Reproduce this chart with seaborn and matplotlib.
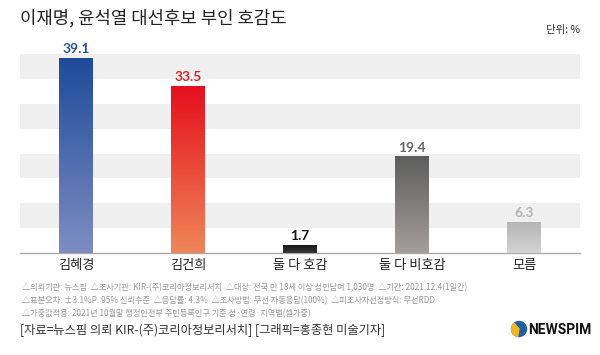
import numpy as np
import pandas as pd
import seaborn as sns
import matplotlib.pyplot as plt
from matplotlib.colors import LinearSegmentedColormap
from matplotlib.patches import Circle, Wedge

sns.set_style('white')
plt.rcParams['font.family'] = ['Noto Sans CJK KR', 'DejaVu Sans']

# data
categories = ['김혜경', '김건희', '둘 다 호감', '둘 다 비호감', '모름']
values = [39.1, 33.5, 1.7, 19.4, 6.3]
top_colors = ['#1d4b9a', '#e50f1d', '#111111', '#5e5e5e', '#b4b4b4']
bottom_colors = ['#7f8dc2', '#f08658', '#3a3a3a', '#a49e9c', '#d4d4d4']
label_colors = ['#2a559c', '#e0202a', '#111111', '#666666', '#b3b3b3']

df = pd.DataFrame({'cat': categories, 'val': values})

fig = plt.figure(figsize=(6, 3.55), dpi=100)
ax = fig.add_axes([20 / 600, 102 / 355, 560 / 600, 199 / 355])

# striped background
for lo in range(5, 40, 10):
    ax.axhspan(lo, lo + 5, color='#f0f0f0', zorder=0, lw=0)

sns.barplot(data=df, x='cat', y='val', ax=ax, width=0.3, color='white', zorder=2)

# gradient fill on each bar
bars = ax.containers[0]
for i, p in enumerate(bars):
    x0, y0 = p.get_x(), p.get_y()
    w, h = p.get_width(), p.get_height()
    cmap = LinearSegmentedColormap.from_list('g', [bottom_colors[i], top_colors[i]])
    grad = np.linspace(0, 1, 256).reshape(-1, 1)
    im = ax.imshow(grad, cmap=cmap, aspect='auto', origin='lower',
                   extent=(x0, x0 + w, y0, y0 + h), zorder=3)
    im.set_clip_path(p)
    p.set_facecolor('none')
    p.set_edgecolor('none')
    ax.text(x0 + w / 2, y0 + h + 0.6, f'{values[i]:.1f}', ha='center', va='bottom',
            fontsize=10, fontweight='bold', color=label_colors[i],
            family=['Lato', 'DejaVu Sans'], zorder=4)

ax.set_xlim(-0.5, len(categories) - 0.5)
ax.set_ylim(0, 40)
ax.set_xlabel('')
ax.set_ylabel('')
ax.set_yticks([])
ax.set_xticks(range(len(categories)))
ax.set_xticklabels(categories, fontsize=9.5, color='#222222')
ax.tick_params(axis='x', length=0, pad=4)
ax.set_xticks(np.arange(0.5, len(categories) - 1, 1), minor=True)
ax.tick_params(axis='x', which='minor', direction='in', length=4, color='#aaaaaa')
for s in ['top', 'left', 'right']:
    ax.spines[s].set_visible(False)
ax.spines['bottom'].set_color('#aaaaaa')
ax.spines['bottom'].set_linewidth(1)

# title and unit
fig.text(20 / 600, 1 - 18 / 355, '이재명, 윤석열 대선후보 부인 호감도', fontsize=12.8,
         color='#222222', va='center', ha='left')
fig.text(580 / 600, 1 - 30 / 355, '단위: %', fontsize=7.5, color='#333333',
         va='center', ha='right')

# footnotes
notes = [
    '△의뢰기관: 뉴스핌  △조사기관: KIR-(주)코리아정보리서치  △대상: 전국 만 18세 이상 성인남여 1,030명  △기간: 2021.12.4(1일간)',
    '△표본오차: ±3.1%P. 95% 신뢰수준  △응답률: 4.3%  △조사방법: 무선 자동응답(100%)  △피조사자선정방식: 무선RDD',
    '△가중값적용: 2021년 10월말 행정안전부 주민등록인구 기준 성·연령·지역별(셀가중)',
]
for k, line in enumerate(notes):
    fig.text(22 / 600, 1 - (288 + k * 13) / 355, line, fontsize=5.9, color='#999999',
             va='center', ha='left')
fig.text(20 / 600, 1 - 330 / 355, '[자료=뉴스핌 의뢰 KIR-(주)코리아정보리서치] [그래픽=홍종현 미술기자]',
         fontsize=8.8, color='#333333', va='center', ha='left')

# logo
lax = fig.add_axes([0, 0, 1, 1], facecolor='none')
lax.set_xlim(0, 600)
lax.set_ylim(355, 0)
lax.axis('off')
lax.add_patch(Circle((519, 329), 7.5, color='#1f5fa8'))
lax.add_patch(Wedge((519, 329), 7.5, 100, 230, color='#f2b51c'))
fig.text(528 / 600, 1 - 330 / 355, 'NEWSPIM', fontsize=10, fontweight='bold',
         color='#111111', va='center', ha='left', family=['Roboto', 'DejaVu Sans'])

fig.savefig('out.png', dpi=100)
